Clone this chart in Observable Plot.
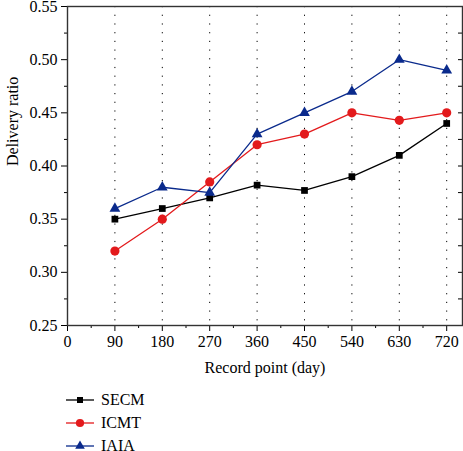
<!DOCTYPE html>
<html><head><meta charset="utf-8">
<script src="https://cdn.jsdelivr.net/npm/d3@7"></script>
<script src="https://cdn.jsdelivr.net/npm/@observablehq/plot@0.6"></script>
<style>
body{margin:0;background:#fff;font-family:"Liberation Serif","DejaVu Serif",serif;}
#legend{margin-top:3.5px;padding-left:66px;}
.row{height:23px;display:flex;align-items:center;font-size:16px;color:#000;font-family:"Liberation Serif",serif;}
.row svg{margin-right:7px;}
</style>
</head><body><div id="chart"></div><div id="legend"></div><script>
const days = [90, 180, 270, 360, 450, 540, 630, 720];
const seriesNames = ["SECM", "ICMT", "IAIA"];
const secm = [0.350, 0.360, 0.370, 0.382, 0.377, 0.390, 0.410, 0.440];
const icmt = [0.320, 0.350, 0.385, 0.420, 0.430, 0.450, 0.443, 0.450];
const iaia = [0.360, 0.380, 0.375, 0.430, 0.450, 0.470, 0.500, 0.490];
const colors = ["#000000", "#e31a1c", "#0a2a8c"];
const symbols = ["square", "circle", "triangle"];
const radii = [3.8, 4.6, 4.0];
const xTicks = [0, 90, 180, 270, 360, 450, 540, 630, 720];
const xMinor = [45, 135, 225, 315, 405, 495, 585, 675];
const yTicks = [0.25, 0.30, 0.35, 0.40, 0.45, 0.50, 0.55];
const yMinor = [0.275, 0.325, 0.375, 0.425, 0.475, 0.525];

const values = [secm, icmt, iaia];
const data = [];
seriesNames.forEach((s, i) => days.forEach((d, j) => data.push({series: s, day: d, value: values[i][j]})));

const marks = [
  Plot.ruleX(days, {stroke: "#000", strokeDasharray: "1.2,7.5", strokeWidth: 1}),
  Plot.axisX({ticks: xTicks, tickSize: 6, tickPadding: 4, tickFormat: d => String(d), label: null, fontSize: 16}),
  Plot.axisX({ticks: xMinor, tickSize: 3, tickFormat: () => "", label: null}),
  Plot.axisY({ticks: yTicks, tickSize: 6, tickPadding: 4, tickFormat: d3.format(".2f"), label: null, fontSize: 16}),
  Plot.axisY({ticks: yMinor, tickSize: 3, tickFormat: () => "", label: null}),
  Plot.axisY({anchor: "right", ticks: yTicks.concat(yMinor), tickSize: -5, tickFormat: () => "", label: null}),
  Plot.frame({stroke: "#333", strokeWidth: 1.4}),
  Plot.text(["Record point (day)"], {frameAnchor: "bottom", dy: 42, text: d => d, lineAnchor: "middle", fontSize: 16}),
  Plot.text(["Delivery ratio"], {frameAnchor: "left", dx: -55, rotate: -90, text: d => d, lineAnchor: "middle", fontSize: 16})
];
seriesNames.forEach((s, i) => {
  const sub = data.filter(d => d.series === s);
  marks.push(Plot.line(sub, {x: "day", y: "value", stroke: colors[i], strokeWidth: 1.3}));
});
seriesNames.forEach((s, i) => {
  const sub = data.filter(d => d.series === s);
  marks.push(Plot.dot(sub, {x: "day", y: "value", fill: colors[i], stroke: "none", symbol: symbols[i], r: radii[i]}));
});

const chart = Plot.plot({
  width: 463, height: 385,
  marginLeft: 67, marginRight: 1, marginTop: 6, marginBottom: 60,
  style: {fontFamily: "Liberation Serif", fontSize: "16px", background: "white", color: "#000", overflow: "visible"},
  x: {domain: [0, 750]},
  y: {domain: [0.25, 0.55]},
  marks
});
document.getElementById("chart").appendChild(chart);

const legend = d3.select("#legend");
seriesNames.forEach((s, i) => {
  const row = legend.append("div").attr("class", "row");
  const svg = row.append("svg").attr("width", 28).attr("height", 14);
  svg.append("line").attr("x1", 0).attr("x2", 28).attr("y1", 7).attr("y2", 7).attr("stroke", colors[i]).attr("stroke-width", 1.3);
  svg.append("path").attr("transform", "translate(14,7)")
    .attr("d", d3.symbol([d3.symbolSquare, d3.symbolCircle, d3.symbolTriangle][i], Math.PI * radii[i] * radii[i] * 0.8)())
    .attr("fill", colors[i]);
  row.append("span").text(s);
});
</script></body></html>
